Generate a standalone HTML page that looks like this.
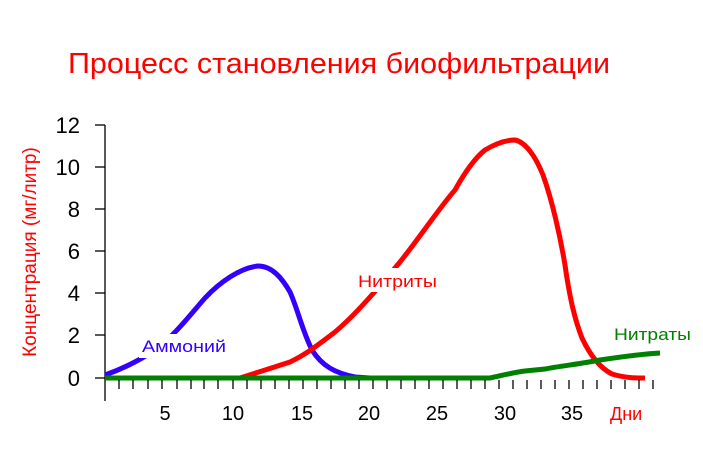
<!DOCTYPE html>
<html><head><meta charset="utf-8"><style>html,body{margin:0;padding:0;background:#fff}svg{display:block}</style></head>
<body>
<svg width="703" height="454" viewBox="0 0 703 454" xmlns="http://www.w3.org/2000/svg" font-family="Liberation Sans, Arial, sans-serif">
<rect width="703" height="454" fill="#fff"/>
<text x="68" y="73" font-size="29" fill="#ff0000" textLength="542" lengthAdjust="spacingAndGlyphs">Процесс становления биофильтрации</text>
<text transform="translate(36,252) rotate(-90)" text-anchor="middle" font-size="19" fill="#ff0000">Концентрация (мг/литр)</text>
<g stroke="#000" stroke-width="1.3">
<line x1="105" y1="125" x2="105" y2="401"/>
<line x1="95" y1="125" x2="105" y2="125"/>
<line x1="95" y1="167" x2="105" y2="167"/>
<line x1="95" y1="209" x2="105" y2="209"/>
<line x1="95" y1="251" x2="105" y2="251"/>
<line x1="95" y1="293" x2="105" y2="293"/>
<line x1="95" y1="335" x2="105" y2="335"/>
<line x1="95" y1="378" x2="105" y2="378"/>
</g>
<g font-size="22" fill="#000" text-anchor="end">
<text x="80" y="133">12</text><text x="80" y="175">10</text><text x="80" y="217">8</text><text x="80" y="259">6</text><text x="80" y="301">4</text><text x="80" y="343">2</text><text x="80" y="386">0</text>
</g>
<g font-size="20" fill="#000" text-anchor="middle">
<text x="165" y="420">5</text><text x="233" y="420">10</text><text x="302" y="420">15</text><text x="369" y="420">20</text><text x="437" y="420">25</text><text x="505" y="420">30</text><text x="572" y="420">35</text>
</g>
<text x="610" y="420" font-size="18" fill="#ff0000">Дни</text>
<path d="M105,375 C125,368 140,360 155,350 C175,335 190,315 205,298 C220,282 240,268 258,266 C272,266 282,278 290,292 C298,310 302,330 312,350 C322,366 335,373 355,377 L370,378" fill="none" stroke="#3300ff" stroke-width="5"/>
<path d="M240,378 L262,371 L290,362 C305,355 318,345 335,332 C355,315 375,292 400,262 C420,237 440,207 455,190 C465,172 475,158 485,150 C495,144 505,140 515,140 C525,142 535,155 543,175 C552,200 560,235 565,265 C570,300 575,320 582,338 C590,355 600,368 612,374 C625,378 635,378 645,378" fill="none" stroke="#008000" stroke-width="0"/>
<path d="M240,378 L262,371 L290,362 C305,355 318,345 335,332 C355,315 375,292 400,262 C420,237 440,207 455,190 C465,172 475,158 485,150 C495,144 505,140 515,140 C525,142 535,155 543,175 C552,200 560,235 565,265 C570,300 575,320 582,338 C590,355 600,368 612,374 C625,378 635,378 645,378" fill="none" stroke="#ff0000" stroke-width="5"/>
<path d="M105,378 L490,378 C500,376 510,373 525,371 L545,369 C560,366 580,364 600,360 C620,357 640,354 660,353" fill="none" stroke="#008000" stroke-width="5"/>
<rect x="139" y="334" width="90" height="24" fill="#fff"/>
<rect x="355" y="268" width="86" height="24" fill="#fff"/>
<text x="142" y="352" font-size="17" fill="#3300ff" textLength="84" lengthAdjust="spacingAndGlyphs">Аммоний</text>
<text x="358" y="287" font-size="17" fill="#ff0000" textLength="79" lengthAdjust="spacingAndGlyphs">Нитриты</text>
<text x="614" y="340" font-size="17" fill="#008000" textLength="77" lengthAdjust="spacingAndGlyphs">Нитраты</text>
<g stroke="#000" stroke-width="1.3">
<line x1="119" y1="380" x2="119" y2="389"/><line x1="133" y1="380" x2="133" y2="389"/><line x1="148" y1="380" x2="148" y2="389"/><line x1="162" y1="380" x2="162" y2="389"/><line x1="177" y1="380" x2="177" y2="389"/><line x1="191" y1="380" x2="191" y2="389"/><line x1="204" y1="380" x2="204" y2="389"/><line x1="218" y1="380" x2="218" y2="389"/><line x1="233" y1="380" x2="233" y2="389"/><line x1="247" y1="380" x2="247" y2="389"/><line x1="261" y1="380" x2="261" y2="389"/><line x1="275" y1="380" x2="275" y2="389"/><line x1="289" y1="380" x2="289" y2="389"/><line x1="303" y1="380" x2="303" y2="389"/><line x1="317" y1="380" x2="317" y2="389"/><line x1="331" y1="380" x2="331" y2="389"/><line x1="345" y1="380" x2="345" y2="389"/><line x1="359" y1="380" x2="359" y2="389"/><line x1="373" y1="380" x2="373" y2="389"/><line x1="387" y1="380" x2="387" y2="389"/><line x1="401" y1="380" x2="401" y2="389"/><line x1="415" y1="380" x2="415" y2="389"/><line x1="429" y1="380" x2="429" y2="389"/><line x1="443" y1="380" x2="443" y2="389"/><line x1="457" y1="380" x2="457" y2="389"/><line x1="471" y1="380" x2="471" y2="389"/><line x1="485" y1="380" x2="485" y2="389"/><line x1="499" y1="380" x2="499" y2="389"/><line x1="513" y1="380" x2="513" y2="389"/><line x1="527" y1="380" x2="527" y2="389"/><line x1="541" y1="380" x2="541" y2="389"/><line x1="555" y1="380" x2="555" y2="389"/><line x1="569" y1="380" x2="569" y2="389"/><line x1="583" y1="380" x2="583" y2="389"/><line x1="597" y1="380" x2="597" y2="389"/><line x1="611" y1="380" x2="611" y2="389"/><line x1="625" y1="380" x2="625" y2="389"/><line x1="639" y1="380" x2="639" y2="389"/><line x1="653" y1="380" x2="653" y2="389"/>
</g>
</svg>
</body></html>
